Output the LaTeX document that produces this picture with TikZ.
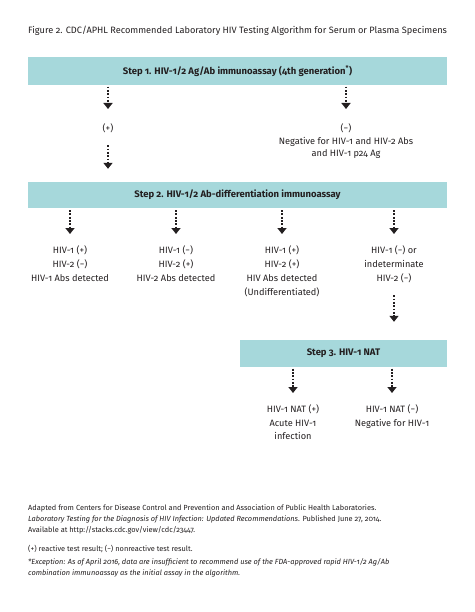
\documentclass[tikz,border=0pt]{standalone}
\usepackage{fontspec}
\setmainfont{Fira Sans}[Numbers=OldStyle]
\usetikzlibrary{arrows.meta}
\definecolor{boxfill}{RGB}{166,216,219}
\definecolor{ink}{RGB}{35,31,32}
\tikzset{
  stepbox/.style={fill=boxfill, draw=none, inner sep=0pt, text=ink,
    font=\bfseries\fontsize{9.5}{11}\selectfont},
  lbl/.style={inner sep=0pt, align=center, anchor=north, text=ink,
    font=\fontsize{9.2}{14}\selectfont,
    execute at begin node=\strut, execute at end node=\strut},
  lbltight/.style={lbl, font=\fontsize{9.2}{12}\selectfont},
  lblres/.style={lbl, font=\fontsize{9.2}{13.5}\selectfont},
  note/.style={inner sep=0pt, align=left, anchor=north west, text=ink,
    font=\fontsize{7.4}{11}\selectfont,
    execute at begin node=\strut, execute at end node=\strut},
  flow/.style={line width=1.8pt, dash pattern=on 1.8pt off 1.5pt, draw=ink,
    -{Triangle[width=9pt,length=6pt]}},
}
\begin{document}
\begin{tikzpicture}[x=1pt,y=-1pt]
\useasboundingbox (0,0) rectangle (474,612);

% title
\node[inner sep=0pt, anchor=base west, text=ink, font=\fontsize{9.2}{11}\selectfont]
  (title) at (28,33.3) {Figure 2. CDC/APHL Recommended Laboratory HIV Testing Algorithm for Serum or Plasma Specimens};

% step boxes
\node[stepbox, minimum width=419pt, minimum height=28pt] (s1) at (237.5,71)
  {Step 1. HIV-1/2 Ag/Ab immunoassay (4th generation\textsuperscript{*})};
\node[stepbox, minimum width=419pt, minimum height=26pt] (s2) at (237.5,195)
  {Step 2. HIV-1/2 Ab-differentiation immunoassay};
\node[stepbox, minimum width=207pt, minimum height=27pt] (s3) at (343.5,353.5)
  {Step 3. HIV-1 NAT};

% step 1 outcomes
\node[lbl] (pl) at (108,121.2) {(+)};
\node[lbl] (mi) at (346,121.2) {(−)};
\node[lbltight] (neg) at (346,137.1) {Negative for HIV-1 and HIV-2 Abs\\and HIV-1 p24 Ag};

% step 2 outcomes
\node[lbl] (c1) at (70,245.2) {HIV-1 (+)\\HIV-2 (−)\\HIV-1 Abs detected};
\node[lbl] (c2) at (176,245.2) {HIV-1 (−)\\HIV-2 (+)\\HIV-2 Abs detected};
\node[lbl] (c3) at (282,245.2) {HIV-1 (+)\\HIV-2 (+)\\HIV Abs detected\\(Undifferentiated)};
\node[lbl] (c4) at (394,245.2) {HIV-1 (−) or\\indeterminate\\HIV-2 (−)};

% step 3 outcomes
\node[lblres] (r1) at (293,404.55) {HIV-1 NAT (+)\\Acute HIV-1\\infection};
\node[lblres] (r2) at (392,404.55) {HIV-1 NAT (−)\\Negative for HIV-1};

% connectors
\draw[flow, shorten <=1.5pt, shorten >=12.2pt] (s1.south -| pl.north) -- (pl.north);
\draw[flow, shorten <=1.5pt, shorten >=12.2pt] (s1.south -| mi.north) -- (mi.north);
\draw[flow, shorten <=9.8pt, shorten >=13pt] (pl.south) -- (s2.north -| pl.south);
\foreach \c in {c1,c2,c3,c4}{
  \draw[flow, shorten <=2pt, shorten >=11.2pt] (s2.south -| \c.north) -- (\c.north);
}
\draw[flow, shorten <=9.8pt, shorten >=18pt] (c4.south) -- (s3.north -| c4.south);
\draw[flow, shorten <=1.5pt, shorten >=11.55pt] (s3.south -| r1.north) -- (r1.north);
\draw[flow, shorten <=1.5pt, shorten >=11.55pt] (s3.south -| r2.north) -- (r2.north);

% notes
\node[note] (n1) at (28,504.6) {Adapted from Centers for Disease Control and Prevention and Association of Public Health Laboratories.\\
\textit{Laboratory Testing for the Diagnosis of HIV Infection: Updated Recommendations}. Published June 27, 2014.\\
Available at http://stacks.cdc.gov/view/cdc/23447.};
\node[note] (n2) at (28,544) {(+) reactive test result; (−) nonreactive test result.};
\node[note, font=\itshape\fontsize{7.4}{10.7}\selectfont] (n3) at (28,558.6) {*Exception: As of April 2016, data are insufficient to recommend use of the FDA-approved rapid HIV-1/2 Ag/Ab\\
combination immunoassay as the initial assay in the algorithm.};
\end{tikzpicture}
\end{document}
